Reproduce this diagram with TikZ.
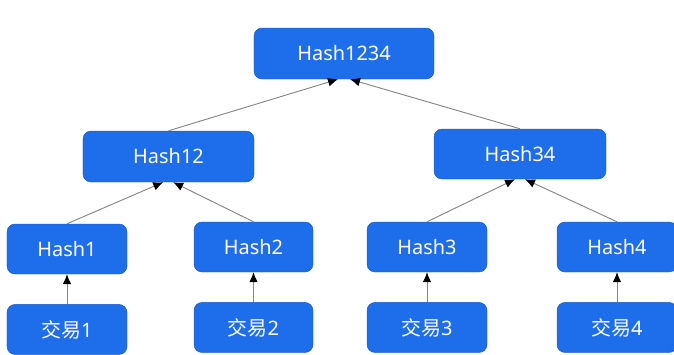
\documentclass[tikz,border=0pt]{standalone}
\usepackage{fontspec}
\setmainfont{Noto Sans}
\newfontfamily\cjk{Noto Sans CJK SC}
\usetikzlibrary{arrows.meta}
\usetikzlibrary{positioning}
\definecolor{hashblue}{RGB}{30,110,235}
\definecolor{hashborder}{RGB}{22,88,200}
\definecolor{linkgray}{RGB}{135,135,135}
\newcommand{\hashcolor}[0]{hashblue}
\tikzset{
    hashbox/.style={rectangle, rounded corners=0.24cm, draw=hashborder, fill=\hashcolor,
        text=white, minimum height=1.5cm, font=\fontsize{17}{20}\selectfont},
    link/.style={draw=linkgray, line width=0.8pt, -{Latex[black, length=0.3cm, width=0.26cm]}}
}

\begin{document}
\begin{tikzpicture}[x=0.03cm, y=-0.03cm]
    \useasboundingbox (0,0) rectangle (674,354);
    \node[hashbox, minimum width=5.4cm, minimum height=1.53cm] (hash1234) at (344,53.5) {Hash1234};
    \node[hashbox, minimum width=5.13cm, minimum height=1.53cm] (hash12) at (168.5,156.5) {Hash12};
    \node[hashbox, minimum width=5.16cm] (hash34) at (520,154) {Hash34};
    \node[hashbox, minimum width=3.6cm] (hash1) at (67,249) {Hash1};
    \node[hashbox, minimum width=3.57cm] (hash2) at (253.5,247) {Hash2};
    \node[hashbox, minimum width=3.6cm] (hash3) at (427,247) {Hash3};
    \node[hashbox, minimum width=3.6cm] (hash4) at (617,247) {Hash4};
    % transactions
    \node[hashbox, minimum width=3.6cm, below=0.9cm of hash1] (tx1) {{\cjk 交易}1};
    \node[hashbox, minimum width=3.57cm, below=0.9cm of hash2] (tx2) {{\cjk 交易}2};
    \node[hashbox, minimum width=3.6cm, below=0.9cm of hash3] (tx3) {{\cjk 交易}3};
    \node[hashbox, minimum width=3.6cm, below=0.9cm of hash4] (tx4) {{\cjk 交易}4};
    % links
    \draw[link] (tx1) -- (hash1);
    \draw[link] (tx2) -- (hash2);
    \draw[link] (tx3) -- (hash3);
    \draw[link] (tx4) -- (hash4);
    \draw[link] (hash1.north) -- ([xshift=-0.16cm]hash12.south);
    \draw[link] (hash2.north) -- ([xshift=0.14cm]hash12.south);
    \draw[link] (hash3.north) -- ([xshift=-0.15cm]hash34.south);
    \draw[link] (hash4.north) -- ([xshift=0.15cm]hash34.south);
    \draw[link] (hash12.north) -- ([xshift=-0.18cm]hash1234.south);
    \draw[link] (hash34.north) -- ([xshift=0.18cm]hash1234.south);
\end{tikzpicture}
\end{document}
